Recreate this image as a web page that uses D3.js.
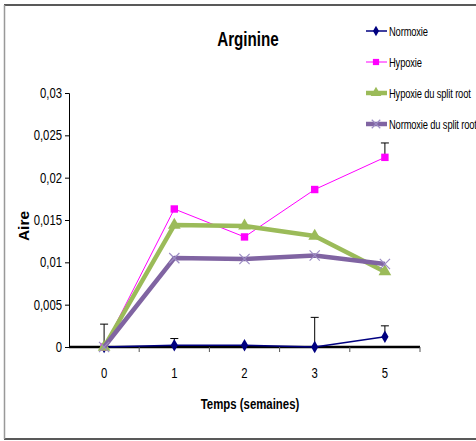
<!DOCTYPE html>
<html>
<head>
<meta charset="utf-8">
<script src="https://cdn.jsdelivr.net/npm/d3@7"></script>
<style>
  body { margin: 0; background: #fff; }
  text { font-family: "Liberation Sans", Arial, sans-serif; fill: #000; }
</style>
</head>
<body>
<script>
// chart values
const weeks = ["0", "1", "2", "3", "5"];
const normoxie = [0, 0.0002, 0.0002, 0, 0.0012];
const normoxieErr = [0.0027, 0.0008, 0, 0.0035, 0.0013];
const hypoxie = [0, 0.0163, 0.013, 0.0186, 0.0224];
const hypoxieErr = [0, 0, 0, 0, 0.0017];
const hypoxieSplit = [0, 0.0144, 0.0143, 0.0131, 0.0089];
const normoxieSplit = [0, 0.0105, 0.0104, 0.0108, 0.0098];
const yTicks = [0, 0.005, 0.01, 0.015, 0.02, 0.025, 0.03];

const width = 476, height = 441;
const svg = d3.select("body").append("svg")
  .attr("width", width).attr("height", height);

// squeezed text, to look like Arial Narrow
function narrow(parent, x, y, txt, size, anchor, sx, bold) {
  return parent.append("text")
    .attr("transform", `translate(${x},${y}) scale(${sx},1)`)
    .attr("text-anchor", anchor || "start")
    .attr("font-size", size)
    .attr("font-weight", bold ? "bold" : null)
    .text(txt);
}

// outer frame
svg.append("line").attr("x1", 4).attr("x2", 476).attr("y1", 5).attr("y2", 5)
  .attr("stroke", "#222").attr("stroke-width", 1.5);
svg.append("line").attr("x1", 4).attr("x2", 476).attr("y1", 439).attr("y2", 439)
  .attr("stroke", "#222").attr("stroke-width", 1.5);
svg.append("line").attr("x1", 4.5).attr("x2", 4.5).attr("y1", 5).attr("y2", 439)
  .attr("stroke", "#999").attr("stroke-width", 1.5);

const x = d3.scaleBand().domain(weeks).range([69, 420]);
const y = d3.scaleLinear().domain([0, 0.03]).range([347, 93]);
const fmt = d => String(+d.toFixed(3)).replace(".", ",");

// y axis
const yAxis = svg.append("g").attr("transform", "translate(69,0)")
  .call(d3.axisLeft(y).tickValues(yTicks).tickSize(4).tickFormat(""));
yAxis.select(".domain").attr("stroke", "#000");
yTicks.forEach(t => narrow(svg, 62, y(t) + 5, fmt(t), 14.5, "end", 0.78));

// x axis
const xAxis = svg.append("g").attr("transform", "translate(0,347)")
  .call(d3.axisBottom(x).tickSize(0).tickFormat(""));
xAxis.select(".domain").remove();
svg.append("line").attr("x1", 69).attr("x2", 420).attr("y1", 347).attr("y2", 347)
  .attr("stroke", "#000").attr("stroke-width", 2.5);
svg.append("g").selectAll("line").data(weeks).join("line")
  .attr("x1", d => x(d) + x.bandwidth()).attr("x2", d => x(d) + x.bandwidth())
  .attr("y1", 347).attr("y2", 352).attr("stroke", "#555");

const cx = d => x(d) + x.bandwidth() / 2;
weeks.forEach(w => narrow(svg, cx(w), 378, w, 14.5, "middle", 0.78));

// error bars
function errorBars(vals, errs) {
  const g = svg.append("g").attr("stroke", "#000").attr("stroke-width", 1);
  weeks.forEach((w, i) => {
    if (!errs[i]) return;
    const top = y(vals[i] + errs[i]);
    g.append("line").attr("x1", cx(w)).attr("x2", cx(w)).attr("y1", y(vals[i])).attr("y2", top);
    g.append("line").attr("x1", cx(w) - 4).attr("x2", cx(w) + 4).attr("y1", top).attr("y2", top);
  });
}
errorBars(normoxie, normoxieErr);
errorBars(hypoxie, hypoxieErr);

const line = d3.line().x((d, i) => cx(weeks[i])).y(d => y(d));

const series = [
  { name: "Normoxie", vals: normoxie, color: "#000080", w: 1.5, marker: d3.symbolDiamond, size: 45 },
  { name: "Hypoxie", vals: hypoxie, color: "#FF00FF", w: 1, marker: d3.symbolSquare, size: 55 },
  { name: "Hypoxie du split root", vals: hypoxieSplit, color: "#9BBB59", w: 4.5, marker: d3.symbolTriangle, size: 70 },
  { name: "Normoxie du split root", vals: normoxieSplit, color: "#8064A2", w: 4.5, marker: d3.symbolX, size: 70 }
];

series.forEach(s => {
  svg.append("path").datum(s.vals).attr("d", line)
    .attr("fill", "none").attr("stroke", s.color).attr("stroke-width", s.w)
    .attr("stroke-linejoin", "round");
  const isX = s.marker === d3.symbolX;
  svg.append("g").selectAll("path").data(s.vals).join("path")
    .attr("transform", (d, i) => `translate(${cx(weeks[i])},${y(d)})`)
    .attr("d", d3.symbol().type(s.marker).size(s.size))
    .attr("fill", isX ? "none" : s.color)
    .attr("stroke", isX ? "#9C8CC4" : "none").attr("stroke-width", 1.2);
});

// legend
const leg = svg.append("g");
series.forEach((s, i) => {
  const ly = 31 + i * 31;
  leg.append("line").attr("x1", 366).attr("x2", 387).attr("y1", ly).attr("y2", ly)
    .attr("stroke", s.color).attr("stroke-width", s.w);
  const isX = s.marker === d3.symbolX;
  leg.append("path").attr("transform", `translate(376,${ly})`)
    .attr("d", d3.symbol().type(s.marker).size(s.size * 0.7))
    .attr("fill", isX ? "none" : s.color)
    .attr("stroke", isX ? "#9C8CC4" : "none").attr("stroke-width", 1.2);
  narrow(leg, 389, ly + 5, s.name, 13, "start", 0.72).attr("letter-spacing", -0.2);
});

// titles
narrow(svg, 248, 46, "Arginine", 19.5, "middle", 0.78, true);
narrow(svg, 250, 409, "Temps (semaines)", 15, "middle", 0.76, true);
svg.append("text").attr("transform", "translate(29,226) rotate(-90)").attr("text-anchor", "middle")
  .attr("font-size", 15.5).attr("font-weight", "bold").text("Aire");
</script>
</body>
</html>
